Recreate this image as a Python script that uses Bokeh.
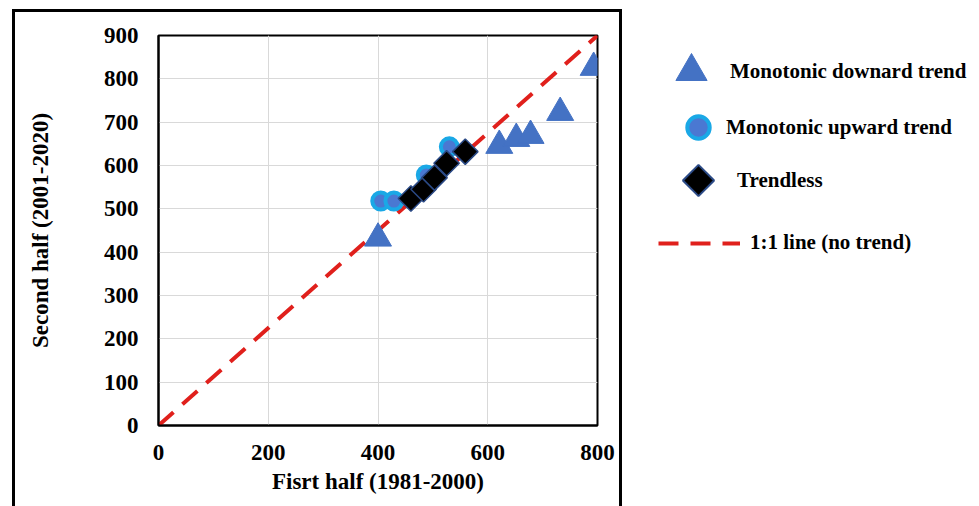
import numpy as np
from bokeh.plotting import figure
from bokeh.layouts import row
from bokeh.models import Range1d, FixedTicker, Legend, LegendItem
from bokeh.embed import file_html
from bokeh.resources import INLINE

# ---- data ----
down_x = [400, 621, 652, 678, 732, 793]
down_y = [432, 646, 662, 669, 722, 826]

up_x = [405, 429, 488, 530]
up_y = [518, 518, 578, 643]

flat_x = [460, 483, 503, 525, 559]
flat_y = [524, 545, 572, 605, 632]

line_x = [0, 800]
line_y = [0, 900]

x_ticks = [0, 200, 400, 600, 800]
y_ticks = [0, 100, 200, 300, 400, 500, 600, 700, 800, 900]

labels = ["Monotonic downard trend", "Monotonic upward trend", "Trendless", "1:1 line (no trend)"]

FONT = "Liberation Serif"
RED = "#e0201c"
TRI = "#4472c4"
CIRC_FILL, CIRC_LINE = "#4a78d2", "#1aa8e6"
DIA_FILL, DIA_LINE = "black", "#2b4a86"

# ---------------- main chart ----------------
p = figure(width=604, height=494, output_backend="svg", toolbar_location=None,
           x_range=Range1d(0, 800), y_range=Range1d(0, 900),
           min_border_left=143, min_border_right=22,
           min_border_top=23, min_border_bottom=81,
           background_fill_color="white", border_fill_color="white")
p.margin = (12, 0, 0, 15)
p.styles = {"outline": "3px solid black"}

p.outline_line_color = "black"
p.outline_line_width = 2

for ax in (p.xaxis, p.yaxis):
    ax.axis_line_color = "black"
    ax.axis_line_width = 2
    ax.major_tick_out = 0
    ax.major_tick_in = 0
    ax.minor_tick_out = 0
    ax.minor_tick_in = 0
    ax.major_label_text_font = FONT
    ax.major_label_text_font_style = "bold"
    ax.major_label_text_font_size = "23px"
    ax.major_label_text_color = "black"
    ax.axis_label_text_font = FONT
    ax.axis_label_text_font_style = "bold"
    ax.axis_label_text_color = "black"
    ax.axis_label_text_font_size = "23px"

p.xaxis.ticker = FixedTicker(ticks=x_ticks)
p.yaxis.ticker = FixedTicker(ticks=y_ticks)
p.xaxis.major_label_standoff = 19
p.yaxis.major_label_standoff = 20
p.xaxis.axis_label = "Fisrt half (1981-2000)"
p.yaxis.axis_label = "Second half (2001-2020)"
p.xaxis.axis_label_standoff = 6
p.yaxis.axis_label_standoff = 48

p.xgrid.ticker = FixedTicker(ticks=x_ticks)
p.ygrid.ticker = FixedTicker(ticks=y_ticks)
p.grid.grid_line_color = "#d9d9d9"
p.grid.grid_line_width = 1

line_style = dict(line_color=RED, line_width=4, line_dash="20 12")
dia_style = dict(marker="square", angle=np.pi / 4, fill_color=DIA_FILL,
                 line_color=DIA_LINE, line_width=1.5)
circ_style = dict(marker="circle", fill_color=CIRC_FILL, line_color=CIRC_LINE, line_width=4)
tri_style = dict(marker="triangle", fill_color=TRI, line_color=TRI, line_width=1)

p.line(line_x, line_y, **line_style)
p.scatter(up_x, up_y, size=17, **circ_style)
p.scatter(flat_x, flat_y, size=18, **dia_style)
p.scatter(down_x, down_y, size=27, **tri_style)

# ---------------- legend panel ----------------
# the ranges are chosen so that the series (drawn again only to feed the
# legend swatches) fall outside this panel's view
q = figure(width=360, height=506, output_backend="svg", toolbar_location=None,
           x_range=Range1d(-2, -1), y_range=Range1d(-2, -1),
           min_border=0, min_border_left=0, min_border_right=0,
           min_border_top=0, min_border_bottom=0)
q.axis.visible = False
q.grid.visible = False
q.outline_line_color = None
q.background_fill_alpha = 0
q.border_fill_alpha = 0

lr_down = q.scatter(down_x, down_y, size=27, **tri_style)
lr_up = q.scatter(up_x, up_y, size=17, **circ_style)
try:
    lr_flat = q.ngon(x=flat_x, y=flat_y, radius=15, n=4, radius_units="screen",
                     fill_color=DIA_FILL, line_color=DIA_LINE, line_width=2)
    dia_box = 78
except Exception:
    lr_flat = q.scatter(flat_x, flat_y, size=18, marker="diamond",
                        fill_color=DIA_FILL, line_color=DIA_LINE, line_width=1.5)
    dia_box = 70
lr_line = q.line(line_x, line_y, **line_style)


def make_legend(label, renderer, gw, gh, standoff, loc):
    lg = Legend(items=[LegendItem(label=label, renderers=[renderer])],
                location=loc, glyph_width=gw, glyph_height=gh,
                label_standoff=standoff, padding=0, margin=0, spacing=0,
                border_line_color=None, background_fill_alpha=0,
                label_text_font=FONT, label_text_font_style="bold",
                label_text_font_size="21px", label_text_color="black")
    q.add_layout(lg)
    return lg


# locations: x from the panel's left edge, y from the (row-aligned) frame bottom
make_legend(labels[0], lr_down, 78, 78, 0, (33, 315))
make_legend(labels[1], lr_up, 56, 56, 0, (51, 270))
make_legend(labels[2], lr_flat, dia_box, dia_box, 0, (79 - dia_box / 2, 245 - dia_box / 2))
make_legend(labels[3], lr_line, 82, 20, 10, (39, 170))

layout = row(p, q)
open("out.html", "w").write(file_html(layout, INLINE))
